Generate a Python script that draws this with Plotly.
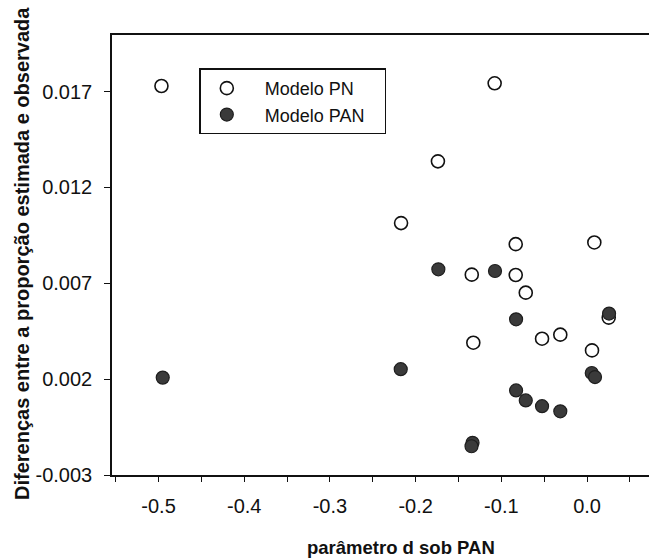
import plotly.graph_objects as go

# Modelo PN: parâmetro d vs. diferença entre proporção estimada e observada
pn_d = [-0.4966, -0.1078, -0.1740, -0.2170, -0.0832, 0.0085, -0.1345,
        -0.0832, -0.0715, 0.0253, -0.1327, -0.0525, -0.0312, 0.0058]
pn_diff = [0.01729, 0.01743, 0.01336, 0.01014, 0.00904, 0.00913, 0.00745,
           0.00743, 0.00651, 0.00521, 0.00390, 0.00411, 0.00432, 0.00350]

# Modelo PAN
pan_d = [-0.4951, -0.2174, -0.1735, -0.1074, -0.0828, 0.0257, 0.0055,
         0.0093, -0.0828, -0.0715, -0.0525, -0.0312, -0.1336, -0.1348]
pan_diff = [0.00208, 0.00252, 0.00773, 0.00764, 0.00512, 0.00542, 0.00232,
            0.00211, 0.00141, 0.00089, 0.00059, 0.00032, -0.00132, -0.00150]

x_tickvals = [-0.55, -0.5, -0.45, -0.4, -0.35, -0.3, -0.25, -0.2, -0.15,
              -0.1, -0.05, 0.0, 0.05]
x_ticktext = ["", "-0.5", "", "-0.4", "", "-0.3", "", "-0.2", "",
              "-0.1", "", "0.0", ""]
y_tickvals = [0.017, 0.012, 0.007, 0.002, -0.003]
y_ticktext = ["0.017", "0.012", "0.007", "0.002", "-0.003"]

FONT = "Liberation Sans, Arial, Helvetica, sans-serif"
NBSP = "\u00a0"

fig = go.Figure()
fig.add_trace(go.Scatter(
    x=pn_d, y=pn_diff, mode="markers", name="Modelo PN",
    marker=dict(size=13, color="white", line=dict(color="#111111", width=1.6)),
))
fig.add_trace(go.Scatter(
    x=pan_d, y=pan_diff, mode="markers", name="Modelo PAN" + NBSP * 3,
    marker=dict(size=13, color="#3a3a3a", line=dict(color="#1e1e1e", width=1.2)),
))

fig.update_layout(
    width=649, height=560,
    margin=dict(l=112, r=0, t=35, b=85),
    plot_bgcolor="white", paper_bgcolor="white",
    font=dict(family=FONT, color="#111111"),
    showlegend=True,
    legend=dict(
        x=0.1626, y=0.924, xanchor="left", yanchor="top",
        bordercolor="#111111", borderwidth=1.5, bgcolor="white",
        font=dict(size=18, family=FONT, color="#111111"),
        tracegroupgap=0, itemwidth=66, indentation=-12,
    ),
    xaxis=dict(
        range=[-0.5543, 0.0723], tickvals=x_tickvals, ticktext=x_ticktext,
        showgrid=False, zeroline=False,
        showline=True, linecolor="#111111", linewidth=1.5, mirror=True,
        ticks="outside", ticklen=5, tickwidth=1.2, tickcolor="#111111",
        tickfont=dict(size=20, family=FONT, color="#111111"),
        ticklabelstandoff=7,
    ),
    yaxis=dict(
        range=[-0.003, 0.01995], tickvals=y_tickvals, ticktext=y_ticktext,
        showgrid=False, zeroline=False,
        showline=True, linecolor="#111111", linewidth=1.5,
        ticks="outside", ticklen=6, tickwidth=1.2, tickcolor="#111111",
        tickfont=dict(size=20, family=FONT, color="#111111"),
        ticklabelstandoff=8,
    ),
    annotations=[
        dict(text="<b>parâmetro d sob PAN</b>", xref="paper", yref="paper",
             x=(401 - 112) / 537, y=(475 - 547) / 440,
             xanchor="center", yanchor="middle", showarrow=False,
             font=dict(size=18.5, family=FONT, color="#111111")),
        dict(text="<b>Diferenças entre a proporção estimada e observada</b>",
             xref="paper", yref="paper",
             x=(22 - 112) / 537, y=(475 - 254) / 440, textangle=-90,
             xanchor="center", yanchor="middle", showarrow=False,
             font=dict(size=20, family=FONT, color="#111111")),
    ],
)

fig.write_html("out.html")
